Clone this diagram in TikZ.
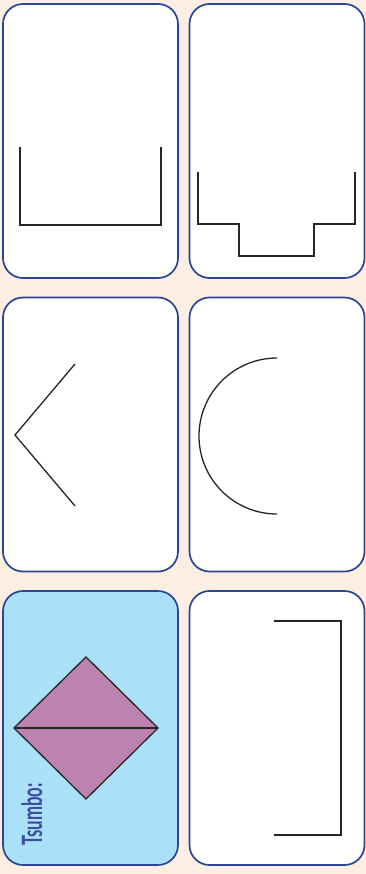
\documentclass[tikz,border=0pt]{standalone}
\usepackage{fontspec}
\newfontfamily\cardfont{Lato}
\usepackage{tikz}
\usetikzlibrary{backgrounds}
\definecolor{pagebg}{HTML}{FDEEE3}
\definecolor{cardline}{HTML}{2B4596}
\definecolor{tsumbofill}{HTML}{AAE1F9}
\definecolor{kitefill}{HTML}{BC83B0}
\definecolor{labelblue}{HTML}{3C4D9E}

\begin{document}
\begin{tikzpicture}[
    x=1pt, y=-1pt,
    card/.style={rectangle, rounded corners=20pt, draw=cardline,
                 line width=1.7pt, fill=white,
                 minimum width=175pt, minimum height=274pt},
    figline/.style={draw=black!85, line width=1.3pt},
]
  % page
  \fill[pagebg] (0,0) rectangle (366,874);
  \useasboundingbox (0,0) rectangle (366,874);

  % cards, top row
  \node[card] (c1) at (90.5, 141) {};
  \node[card] (c2) at (277,  141) {};

  % cards, middle row
  \node[card] (c3) at (90.5, 434.5) {};
  \node[card] (c4) at (277,  434.5) {};

  % cards, bottom row (answer card is blue)
  \node[card, fill=tsumbofill] (c5) at (90.5, 728) {};
  \node[card] (c6) at (277,  728) {};

  % open box
  \draw[figline] (20,147) -- (20,225) -- (161,225) -- (161,147);

  % stepped box
  \draw[figline] (198,172) -- (198,224) -- (239,224) -- (239,256)
                 -- (314,256) -- (314,224) -- (355,224) -- (355,172);

  % chevron
  \draw[figline] (75,364) -- (15,435) -- (75,506);

  % half circle
  \draw[figline] (277,358) arc[start angle=-90, end angle=-270, radius=78];

  % kite, split in two
  \draw[figline, fill=kitefill] (86,657) -- (158,728) -- (86,799)
                 -- (14,728) -- cycle;
  \draw[figline] (14,728) -- (158,728);

  % bracket
  \draw[figline] (274,621) -- (341,621) -- (341,835) -- (274,835);

  % label
  \node[rotate=90, anchor=base west, inner sep=0pt, text=labelblue,
        font=\cardfont\bfseries\fontsize{28}{28}\selectfont] (tsumbo)
    at (42,846) {\scalebox{0.6}[1]{Tsumbo:}};
\end{tikzpicture}
\end{document}
